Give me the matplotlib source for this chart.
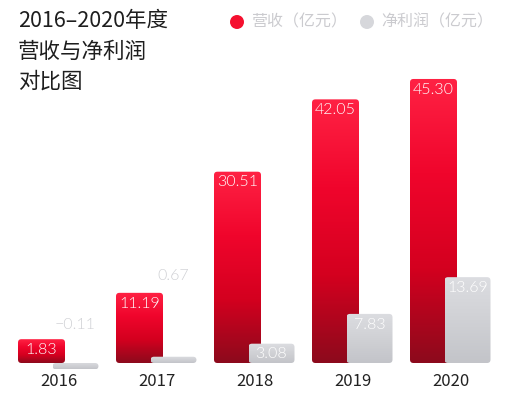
import numpy as np
import matplotlib
matplotlib.use("Agg")
import matplotlib.pyplot as plt
from matplotlib.patches import FancyBboxPatch, Circle
from matplotlib.colors import LinearSegmentedColormap

plt.rcParams['font.family'] = ['Noto Sans CJK SC', 'DejaVu Sans']

# data
years = ["2016", "2017", "2018", "2019", "2020"]
revenue = [1.83, 11.19, 30.51, 42.05, 45.30]
profit = [-0.11, 0.67, 3.08, 7.83, 13.69]
rev_labels = ["1.83", "11.19", "30.51", "42.05", "45.30"]
profit_labels = ["\u22120.11", "0.67", "3.08", "7.83", "13.69"]

title = "2016\u20132020年度\n营收与净利润\n对比图"
legend_names = ["营收（亿元）", "净利润（亿元）"]

W, H = 515, 400
fig = plt.figure(figsize=(W / 100, H / 100), dpi=100)
ax = fig.add_axes([0, 0, 1, 1])
px_x = 98.0      # pixels per category
px_y = 6.27      # pixels per unit
ax.set_xlim(-58.5 / px_x, (W - 58.5) / px_x)
ax.set_ylim(-37 / px_y, (H - 37) / px_y)
ax.axis("off")

red_cmap = LinearSegmentedColormap.from_list(
    "r", ["#8c0a1c", "#d4001f", "#f0052c", "#ff2244"])
gray_cmap = LinearSegmentedColormap.from_list(
    "g", ["#c3c4c9", "#d0d1d5", "#dcdde1"])
num_font = dict(family=["Lato", "DejaVu Sans"], weight=300, fontsize=11.5)


def disp(v, minh):
    return np.sign(v) * max(abs(v), minh)


def grad_bar(xc, w, h, cmap, z):
    x0 = xc - w / 2
    y0, y1 = min(0, h), max(0, h)
    patch = FancyBboxPatch((x0, y0), w, y1 - y0,
                           boxstyle="round,pad=0,rounding_size=0.035",
                           mutation_aspect=px_x / px_y,
                           fc="none", ec="none", zorder=z)
    ax.add_patch(patch)
    grad = np.linspace(0, 1, 256).reshape(-1, 1)
    im = ax.imshow(grad, cmap=cmap, origin="lower", aspect="auto",
                   extent=[x0, x0 + w, y0, y1], zorder=z)
    im.set_clip_path(patch)


x = np.arange(len(years))
off = 17 / px_x
wr = 47 / px_x
wg = 46 / px_x

for i in x:
    hr = disp(revenue[i], 3.8)
    grad_bar(i - off, wr, hr, red_cmap, 2)
    ax.text(i - off, hr - 0.6, rev_labels[i], ha="center", va="top",
            color="white", zorder=5, **num_font)

    hg = disp(profit[i], 1.0)
    grad_bar(i + off, wg, hg, gray_cmap, 3)
    if profit[i] > 2:
        ax.text(i + off, hg - 0.6, profit_labels[i], ha="center", va="top",
                color="white", zorder=5, **num_font)
    else:
        lift = 11.8 if profit[i] > 0 else 5.0
        ax.text(i + off, max(hg, 0) + lift, profit_labels[i],
                ha="center", va="bottom", color="#cfd0d4", zorder=5,
                **num_font)

    ax.text(i, -3.0, years[i], ha="center", va="center",
            color="#222222", fontsize=12)

# title
fig.text(18 / W, 1 - 10 / H, title, ha="left", va="top", fontsize=15.5,
         color="#1e1e1e", linespacing=1.5)

# legend
leg_x = [237, 367]
leg_c = ["#f5102f", "#d6d7db"]
for k in range(2):
    cy = 1 - 22 / H
    fig.patches.append(Circle((leg_x[k], cy * H), 7, transform=None,
                              fc=leg_c[k], ec="none"))
    fig.text((leg_x[k] + 14) / W, cy, legend_names[k], ha="left",
             va="center", fontsize=11.5, color="#cbcbcf")

fig.savefig("out.png", dpi=100)
